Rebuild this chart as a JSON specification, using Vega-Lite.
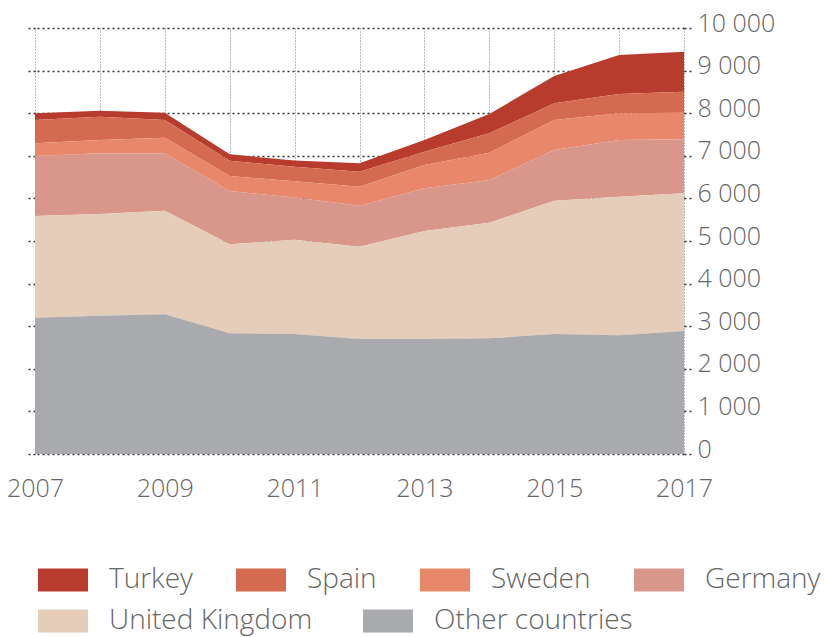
{
  "$schema": "https://vega.github.io/schema/vega-lite/v6.json",
  "width": 649,
  "height": 426,
  "autosize": {"type": "none"},
  "padding": {"left": 35, "top": 28, "right": 154, "bottom": 183},
  "background": "white",
  "config": {"view": {"stroke": null}, "font": "Open Sans"},
  "data": {"values": [
    {"year": 2007, "Turkey": 157, "Spain": 547, "Sweden": 302, "Germany": 1408, "United Kingdom": 2386, "Other countries": 3200},
    {"year": 2008, "Turkey": 141, "Spain": 546, "Sweden": 313, "Germany": 1424, "United Kingdom": 2387, "Other countries": 3246},
    {"year": 2009, "Turkey": 171, "Spain": 415, "Sweden": 367, "Germany": 1347, "United Kingdom": 2431, "Other countries": 3279},
    {"year": 2010, "Turkey": 150, "Spain": 359, "Sweden": 352, "Germany": 1251, "United Kingdom": 2089, "Other countries": 2833},
    {"year": 2011, "Turkey": 145, "Spain": 343, "Sweden": 380, "Germany": 990, "United Kingdom": 2214, "Other countries": 2816},
    {"year": 2012, "Turkey": 197, "Spain": 352, "Sweden": 446, "Germany": 962, "United Kingdom": 2167, "Other countries": 2699},
    {"year": 2013, "Turkey": 275, "Spain": 312, "Sweden": 547, "Germany": 1002, "United Kingdom": 2535, "Other countries": 2699},
    {"year": 2014, "Turkey": 453, "Spain": 455, "Sweden": 641, "Germany": 1002, "United Kingdom": 2714, "Other countries": 2715},
    {"year": 2015, "Turkey": 641, "Spain": 392, "Sweden": 704, "Germany": 1190, "United Kingdom": 3129, "Other countries": 2816},
    {"year": 2016, "Turkey": 916, "Spain": 453, "Sweden": 626, "Germany": 1331, "United Kingdom": 3253, "Other countries": 2786},
    {"year": 2017, "Turkey": 939, "Spain": 493, "Sweden": 624, "Germany": 1267, "United Kingdom": 3232, "Other countries": 2887}
  ]},
  "transform": [
    {"fold": ["Turkey", "Spain", "Sweden", "Germany", "United Kingdom", "Other countries"], "as": ["country", "value"]},
    {"calculate": "indexof(['Other countries','United Kingdom','Germany','Sweden','Spain','Turkey'], datum.country)", "as": "stackOrder"},
    {"stack": "value", "groupby": ["year"], "sort": [{"field": "stackOrder", "order": "ascending"}], "as": ["y0", "y1"]}
  ],
  "layer": [
    {
      "transform": [{"filter": "datum.stackOrder >= 2"}],
      "mark": {"type": "area", "opacity": 1},
      "encoding": {
        "x": {
          "field": "year", "type": "quantitative",
          "scale": {"domain": [2007, 2017], "nice": false, "zero": false},
          "axis": {
            "title": null, "values": [2007, 2008, 2009, 2010, 2011, 2012, 2013, 2014, 2015, 2016, 2017],
            "format": "d", "labelExpr": "datum.value % 2 == 1 ? datum.label : ''",
            "ticks": false, "domain": false, "grid": true, "gridColor": "#777", "gridDash": [1, 2], "gridWidth": 1,
            "labelFontSize": 25, "labelFontWeight": 300, "labelColor": "#666", "labelPadding": 22, "labelFlush": false
          }
        },
        "y": {
          "field": "y1", "type": "quantitative",
          "scale": {"domain": [0, 10000], "nice": false},
          "axis": {
            "title": null, "orient": "right",
            "values": [0, 1000, 2000, 3000, 4000, 5000, 6000, 7000, 8000, 9000, 10000],
            "labelExpr": "replace(format(datum.value, ','), ',', ' ')",
            "domain": false, "grid": true, "gridColor": "#333", "gridDash": [2, 3], "gridWidth": 1.5,
            "ticks": true, "tickSize": 9, "tickDash": [2, 3], "tickColor": "#333", "tickWidth": 1.5,
            "labelPadding": 4, "labelFontSize": 25, "labelFontWeight": 300, "labelColor": "#666",
            "labelBaseline": "middle", "labelOffset": -5
          }
        },
        "y2": {"field": "y0"},
        "fill": {
          "field": "country", "type": "nominal",
          "scale": {
            "domain": ["Turkey", "Spain", "Sweden", "Germany"],
            "range": ["#b83c2e", "#d46b50", "#e8876a", "#d9968b"]
          },
          "legend": {
            "title": null, "orient": "none", "legendX": 3, "legendY": 527,
            "direction": "horizontal", "columns": 4,
            "symbolType": "M-1,-0.46H1V0.46H-1Z", "symbolSize": 2500,
            "symbolStrokeWidth": 0, "symbolOpacity": 1,
            "labelFontSize": 28, "labelFontWeight": 300, "labelColor": "#666",
            "labelOffset": 21, "columnPadding": 43, "labelLimit": 400
          }
        }
      }
    },
    {
      "transform": [{"filter": "datum.stackOrder < 2"}],
      "mark": {"type": "area", "opacity": 1},
      "encoding": {
        "x": {"field": "year", "type": "quantitative"},
        "y": {"field": "y1", "type": "quantitative", "axis": null},
        "y2": {"field": "y0"},
        "color": {
          "field": "country", "type": "nominal",
          "scale": {
            "domain": ["United Kingdom", "Other countries"],
            "range": ["#e6cdb9", "#a9aaad"]
          },
          "legend": {
            "title": null, "orient": "none", "legendX": 3, "legendY": 568,
            "direction": "horizontal", "columns": 2,
            "symbolType": "M-1,-0.46H1V0.46H-1Z", "symbolSize": 2500,
            "symbolStrokeWidth": 0, "symbolOpacity": 1,
            "labelFontSize": 28, "labelFontWeight": 300, "labelColor": "#666",
            "labelOffset": 21, "columnPadding": 50, "labelLimit": 400
          }
        }
      }
    },
    {
      "mark": {"type": "point", "opacity": 0},
      "encoding": {
        "x": {"field": "year", "type": "quantitative"},
        "y": {
          "field": "y1", "type": "quantitative",
          "axis": {
            "title": null, "orient": "left", "labels": false, "domain": false, "grid": false,
            "values": [0, 1000, 2000, 3000, 4000, 5000, 6000, 7000, 8000, 9000, 10000],
            "ticks": true, "tickSize": 9, "tickDash": [2, 3], "tickColor": "#333", "tickWidth": 1.5
          }
        }
      }
    }
  ],
  "resolve": {"axis": {"y": "independent"}}
}
